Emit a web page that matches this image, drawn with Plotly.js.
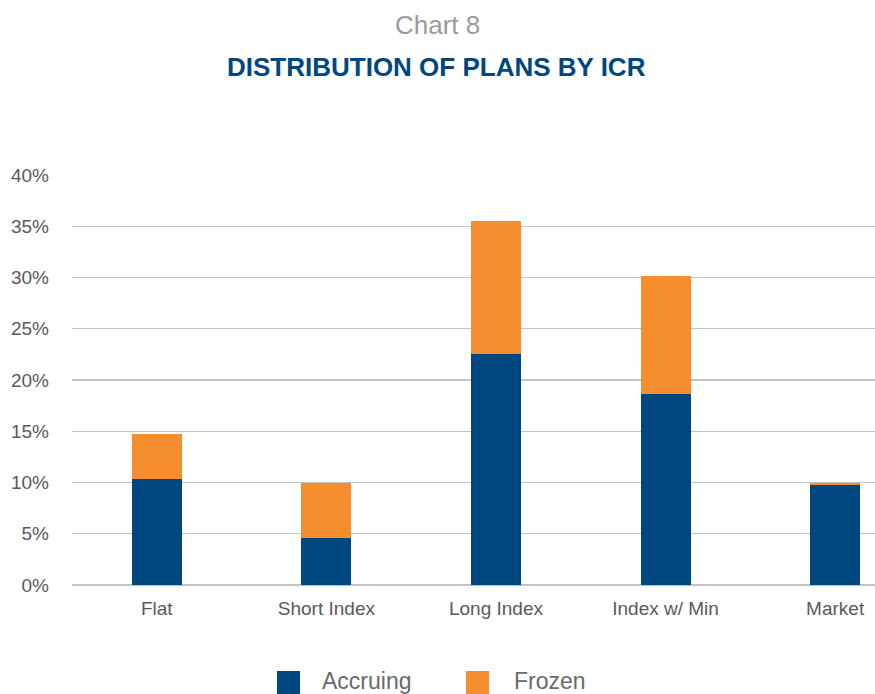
<!DOCTYPE html>
<html>
<head>
<meta charset="utf-8">
<script src="https://cdn.plot.ly/plotly-3.0.1.min.js"></script>
<style>html,body{margin:0;padding:0;background:#fff;overflow:hidden;}</style>
</head>
<body>
<div id="chart" style="width:875px;height:694px;"></div>
<script>
const categories = ["Flat", "Short Index", "Long Index", "Index w/ Min", "Market"];
const accruing = [10.3, 4.6, 22.5, 18.6, 9.75];
const frozen = [4.4, 5.35, 13.0, 11.5, 0.2];
const yTickVals = [0, 5, 10, 15, 20, 25, 30, 35, 40];
const yTickText = ["0%", "5%", "10%", "15%", "20%", "25%", "30%", "35%", "40%"];
const seriesNames = ["Accruing", "Frozen"];
const colors = ["#00477f", "#f68d2e"];

const L = 72, R = 875, T = 175, B = 585;
const pw = R - L, ph = B - T;
const px = x => (x - L) / pw;
const py = y => (B - y) / ph;

const traces = [
  {type: "bar", name: seriesNames[0], x: categories, y: accruing, marker: {color: colors[0]}, width: 0.295, hoverinfo: "x+y"},
  {type: "bar", name: seriesNames[1], x: categories, y: frozen, marker: {color: colors[1]}, width: 0.295, hoverinfo: "x+y"}
];

const legendSquares = [[277, 300], [466, 489]];
const legendTextX = [320, 512];
const shapes = legendSquares.map((s, i) => ({
  type: "rect", xref: "paper", yref: "paper",
  x0: px(s[0]), x1: px(s[1]), y0: py(671), y1: py(697),
  fillcolor: colors[i], line: {width: 0}
}));
const annotations = [
  {text: "Chart 8", xref: "paper", yref: "paper", x: px(437), y: py(25), xanchor: "center", yanchor: "middle", showarrow: false,
   font: {family: "Liberation Sans, Arial, sans-serif", size: 26, color: "#9a9a9a"}},
  {text: "<b>DISTRIBUTION OF PLANS BY ICR</b>", xref: "paper", yref: "paper", x: px(436), y: py(67), xanchor: "center", yanchor: "middle", showarrow: false,
   font: {family: "Liberation Sans, Arial, sans-serif", size: 26, color: "#00477f"}}
].concat(seriesNames.map((n, i) => ({
  text: n, xref: "paper", yref: "paper", x: px(legendTextX[i]), y: py(681), xanchor: "left", yanchor: "middle", showarrow: false,
  font: {family: "Liberation Sans, Arial, sans-serif", size: 23, color: "#6a6a6a"}
})));

const layout = {
  width: 875, height: 694,
  margin: {l: L, r: 0, t: T, b: 694 - B},
  barmode: "stack",
  showlegend: false,
  paper_bgcolor: "#fff", plot_bgcolor: "#fff",
  font: {family: "Liberation Sans, Arial, sans-serif", color: "#5a5a5a", size: 19},
  xaxis: {
    type: "category", range: [-0.5, 4.235], showgrid: false, zeroline: false, showline: false,
    ticks: "", ticklabelstandoff: 10, tickfont: {size: 19, color: "#5a5a5a"}, fixedrange: true
  },
  yaxis: {
    range: [0, 40], tickvals: yTickVals, ticktext: yTickText, showgrid: true, gridcolor: "#c2c2c2", gridwidth: 1.3,
    zeroline: true, zerolinecolor: "#c2c2c2", zerolinewidth: 1.3, showline: false, ticks: "",
    ticklabelstandoff: 22, tickfont: {size: 19, color: "#5a5a5a"}, fixedrange: true
  },
  shapes: shapes,
  annotations: annotations
};

Plotly.newPlot("chart", traces, layout, {displayModeBar: false, staticPlot: true});
</script>
</body>
</html>
